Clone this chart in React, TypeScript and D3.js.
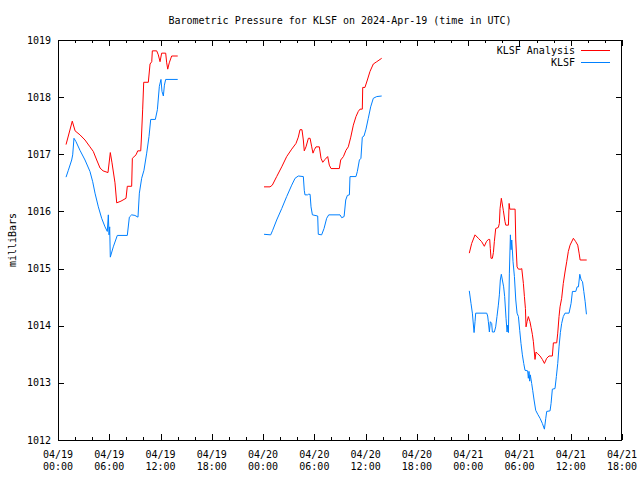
import React from "react";
import * as d3 from "d3";

// hours since 2024-04-19 00:00 UTC, value in millibars
const analysisDay1: [number, number][] = [
  [0.94, 1017.17], [1.67, 1017.58], [2.0, 1017.41], [2.57, 1017.34], [3.16, 1017.25],
  [3.74, 1017.13], [4.13, 1017.05], [4.53, 1016.9], [4.92, 1016.76], [5.27, 1016.71],
  [5.85, 1016.68], [6.12, 1017.03], [6.32, 1016.85], [6.67, 1016.5], [6.87, 1016.15],
  [7.37, 1016.18], [7.96, 1016.23], [8.11, 1016.44], [8.62, 1016.44], [8.7, 1016.93],
  [9.13, 1016.99], [9.33, 1017.06], [9.68, 1017.06], [9.75, 1017.25], [9.91, 1017.79],
  [10.03, 1018.26], [10.57, 1018.26], [10.77, 1018.58], [10.97, 1018.62], [11.04, 1018.81],
  [11.55, 1018.81], [11.74, 1018.74], [11.94, 1018.62], [12.13, 1018.77], [12.6, 1018.77],
  [12.72, 1018.6], [12.84, 1018.49], [13.02, 1018.6], [13.3, 1018.72], [14.01, 1018.72],
];
const analysisDay2: [number, number][] = [
  [24.11, 1016.43], [24.81, 1016.43], [25.08, 1016.46], [25.59, 1016.61], [26.18, 1016.78],
  [26.76, 1016.96], [27.35, 1017.09], [27.85, 1017.19], [28.12, 1017.3], [28.32, 1017.43],
  [28.55, 1017.43], [28.71, 1017.25], [28.82, 1017.06], [29.02, 1017.13], [29.3, 1017.28],
  [29.5, 1017.28], [29.69, 1017.13], [29.84, 1017.02], [30.0, 1017.08], [30.19, 1017.13],
  [30.58, 1017.13], [30.78, 1016.93], [30.98, 1016.86], [31.25, 1016.91], [31.56, 1016.96],
  [31.75, 1016.81], [31.95, 1016.75], [32.92, 1016.75], [33.08, 1016.9], [33.4, 1016.96],
  [33.7, 1017.07], [33.97, 1017.13], [34.26, 1017.3], [34.56, 1017.51], [34.87, 1017.66],
  [35.14, 1017.75], [35.34, 1017.79], [35.61, 1017.79], [35.66, 1018.17], [35.92, 1018.17],
  [36.2, 1018.3], [36.51, 1018.45], [36.9, 1018.58], [37.3, 1018.62], [37.88, 1018.68],
];
const analysisDay3: [number, number][] = [
  [48.13, 1015.27], [48.41, 1015.44], [48.8, 1015.59], [49.19, 1015.53], [49.58, 1015.47],
  [49.89, 1015.39], [50.13, 1015.47], [50.36, 1015.51], [50.52, 1015.51], [50.59, 1015.35],
  [50.67, 1015.18], [50.83, 1015.18], [50.95, 1015.28], [51.06, 1015.47], [51.22, 1015.7],
  [51.53, 1015.72], [51.65, 1015.79], [51.73, 1016.05], [51.88, 1016.23], [52.11, 1016.02],
  [52.31, 1015.82], [52.4, 1015.76], [52.71, 1015.76], [52.79, 1016.14], [52.87, 1016.04],
  [53.49, 1016.04], [53.57, 1015.5], [53.72, 1015.03], [53.88, 1014.99], [54.19, 1014.99],
  [54.27, 1015.0], [54.46, 1014.74], [54.58, 1014.51], [54.7, 1014.3], [54.77, 1013.98],
  [54.89, 1014.07], [55.04, 1014.16], [55.23, 1014.07], [55.36, 1013.97], [55.51, 1013.85],
  [55.63, 1013.72], [55.82, 1013.41], [55.94, 1013.54], [56.14, 1013.51], [56.41, 1013.47],
  [56.68, 1013.41], [56.92, 1013.34], [57.19, 1013.43], [57.46, 1013.47], [57.85, 1013.47],
  [57.97, 1013.7], [58.36, 1013.7], [58.48, 1013.87], [58.63, 1014.16], [58.75, 1014.33],
  [58.94, 1014.48], [59.13, 1014.74], [59.33, 1014.94], [59.53, 1015.12], [59.72, 1015.3],
  [59.92, 1015.41], [60.31, 1015.53], [60.59, 1015.47], [60.82, 1015.41], [60.98, 1015.27],
  [61.1, 1015.15], [61.87, 1015.15],
];

const stationDay1: [number, number][] = [
  [0.94, 1016.6], [1.21, 1016.72], [1.6, 1016.9], [1.72, 1016.99], [1.87, 1017.28],
  [2.11, 1017.22], [2.57, 1017.07], [3.16, 1016.9], [3.74, 1016.7], [4.06, 1016.52],
  [4.33, 1016.32], [4.72, 1016.08], [5.11, 1015.88], [5.5, 1015.73], [5.77, 1015.65],
  [5.89, 1015.94], [5.97, 1015.59], [6.05, 1015.73], [6.12, 1015.2], [6.47, 1015.38],
  [6.94, 1015.58], [8.11, 1015.58], [8.35, 1015.9], [8.62, 1015.94], [9.0, 1015.93],
  [9.36, 1015.9], [9.52, 1016.32], [9.79, 1016.58], [10.06, 1016.72], [10.38, 1017.02],
  [10.65, 1017.31], [10.85, 1017.61], [11.39, 1017.61], [11.63, 1017.78], [11.86, 1018.19],
  [12.05, 1018.31], [12.17, 1018.1], [12.33, 1018.02], [12.45, 1018.21], [12.6, 1018.31],
  [14.01, 1018.31],
];
const stationDay2: [number, number][] = [
  [24.11, 1015.6], [24.89, 1015.59], [25.12, 1015.67], [25.59, 1015.85], [26.18, 1016.05],
  [26.76, 1016.26], [27.35, 1016.46], [27.74, 1016.58], [28.12, 1016.62], [28.71, 1016.61],
  [28.82, 1016.37], [28.9, 1016.29], [29.2, 1016.29], [29.3, 1016.3], [29.5, 1016.3],
  [29.61, 1016.08], [29.77, 1015.94], [30.39, 1015.92], [30.46, 1015.6], [30.85, 1015.59],
  [31.13, 1015.7], [31.44, 1015.88], [31.68, 1015.94], [33.0, 1015.94], [33.2, 1015.89],
  [33.48, 1015.91], [33.67, 1016.2], [33.86, 1016.28], [34.1, 1016.29], [34.17, 1016.61],
  [34.87, 1016.61], [35.03, 1016.7], [35.27, 1016.9], [35.45, 1016.93], [35.61, 1017.3],
  [35.81, 1017.32], [36.04, 1017.44], [36.31, 1017.63], [36.59, 1017.83], [36.9, 1017.98],
  [37.3, 1018.01], [37.88, 1018.02],
];
const stationDay3: [number, number][] = [
  [48.13, 1014.61], [48.33, 1014.39], [48.49, 1014.22], [48.69, 1013.88], [48.8, 1014.07],
  [48.88, 1014.22], [50.17, 1014.22], [50.28, 1014.17], [50.36, 1014.07], [50.48, 1013.89],
  [50.59, 1014.07], [50.75, 1014.04], [50.83, 1013.89], [51.06, 1013.89], [51.22, 1013.98],
  [51.37, 1014.16], [51.53, 1014.36], [51.65, 1014.54], [51.76, 1014.8], [51.88, 1014.9],
  [52.0, 1014.8], [52.15, 1014.68], [52.27, 1014.51], [52.43, 1014.13], [52.55, 1013.89],
  [52.63, 1014.01], [52.71, 1013.88], [52.82, 1014.92], [52.94, 1015.59], [53.02, 1015.33],
  [53.1, 1015.5], [53.25, 1015.12], [53.41, 1014.86], [53.57, 1014.45], [53.72, 1014.22],
  [53.88, 1014.16], [54.03, 1013.92], [54.18, 1013.69], [54.34, 1013.49], [54.5, 1013.34],
  [54.65, 1013.22], [54.96, 1013.21], [55.04, 1013.08], [55.12, 1013.2], [55.2, 1013.03],
  [55.27, 1013.14], [55.43, 1012.99], [55.55, 1012.87], [55.71, 1012.7], [55.9, 1012.52],
  [56.14, 1012.45], [56.41, 1012.38], [56.68, 1012.29], [56.92, 1012.19], [57.08, 1012.38],
  [57.19, 1012.5], [57.58, 1012.51], [57.7, 1012.64], [57.85, 1012.89], [58.16, 1012.9],
  [58.32, 1013.11], [58.48, 1013.34], [58.63, 1013.63], [58.79, 1013.88], [58.94, 1014.04],
  [59.13, 1014.16], [59.33, 1014.22], [59.8, 1014.22], [60.04, 1014.39], [60.2, 1014.6],
  [60.59, 1014.6], [60.75, 1014.68], [60.9, 1014.68], [61.06, 1014.9], [61.22, 1014.8],
  [61.38, 1014.77], [61.53, 1014.6], [61.69, 1014.42], [61.84, 1014.2],
];

const seriesNames = ["KLSF Analysis", "KLSF"];
const seriesColors = ["#ff0000", "#0080ff"];
const yTicks = [1012, 1013, 1014, 1015, 1016, 1017, 1018, 1019];
const titleText = "Barometric Pressure for KLSF on 2024-Apr-19 (time in UTC)";
const yLabel = "milliBars";

const START = Date.UTC(2024, 3, 19, 0, 0);
const END = Date.UTC(2024, 3, 21, 18, 0);

const W = 640, H = 480;
const L = 58, R = 622, T = 40, B = 440;
const FONT = "'DejaVu Sans Mono', 'Liberation Mono', monospace";

export default function App() {
  const x = d3.scaleUtc().domain([new Date(START), new Date(END)]).range([L, R]);
  const y = d3.scaleLinear().domain([1012, 1019]).range([B, T]);
  const toDate = (h: number) => new Date(START + h * 3600 * 1000);
  const line = d3
    .line<[number, number]>()
    .x((d) => x(toDate(d[0])))
    .y((d) => y(d[1]));

  const majorTicks = d3.utcHour.every(6)!.range(new Date(START), new Date(END + 1));
  const minorTicks = d3.utcHour.every(2)!.range(new Date(START), new Date(END + 1));
  const fmtDay = d3.utcFormat("%m/%d");
  const fmtTime = d3.utcFormat("%H:%M");

  const analysis = [analysisDay1, analysisDay2, analysisDay3];
  const station = [stationDay1, stationDay2, stationDay3];

  return (
    <svg
      width={W}
      height={H}
      style={{ position: "absolute", left: 0, top: 0, background: "#fff", display: "block" }}
      fontFamily={FONT}
      fontSize={10}
    >
      <rect x={0} y={0} width={W} height={H} fill="#fff" />
      <text x={(L + R) / 2} y={23.5} textAnchor="middle" fill="#000">
        {titleText}
      </text>
      {/* y ticks */}
      {yTicks.map((t) => (
        <g key={"y" + t}>
          <line x1={L} x2={L + 6} y1={Math.round(y(t)) + 0.5} y2={Math.round(y(t)) + 0.5} stroke="#000" />
          <line x1={R - 6} x2={R} y1={Math.round(y(t)) + 0.5} y2={Math.round(y(t)) + 0.5} stroke="#000" />
          <text x={51} y={y(t) + 3.5} textAnchor="end" fill="#000">
            {t}
          </text>
        </g>
      ))}
      {/* x minor ticks */}
      {minorTicks.map((d, i) => {
        const px = Math.round(x(d)) + 0.5;
        return (
          <g key={"m" + i}>
            <line x1={px} x2={px} y1={B} y2={B - 3} stroke="#000" />
            <line x1={px} x2={px} y1={T} y2={T + 3} stroke="#000" />
          </g>
        );
      })}
      {majorTicks.map((d, i) => {
        const px = Math.round(x(d)) + 0.5;
        return (
          <g key={"M" + i}>
            <line x1={px} x2={px} y1={B} y2={B - 6} stroke="#000" />
            <line x1={px} x2={px} y1={T} y2={T + 6} stroke="#000" />
            <text x={x(d)} y={458} textAnchor="middle" fill="#000">
              {fmtDay(d)}
            </text>
            <text x={x(d)} y={470} textAnchor="middle" fill="#000">
              {fmtTime(d)}
            </text>
          </g>
        );
      })}
      <text
        transform={`translate(15.5,${(T + B) / 2}) rotate(-90)`}
        textAnchor="middle"
        fill="#000"
      >
        {yLabel}
      </text>
      {/* data */}
      {analysis.map((seg, i) => (
        <path key={"a" + i} d={line(seg) || ""} fill="none" stroke={seriesColors[0]} strokeWidth={1} />
      ))}
      {station.map((seg, i) => (
        <path key={"s" + i} d={line(seg) || ""} fill="none" stroke={seriesColors[1]} strokeWidth={1} />
      ))}
      {/* legend */}
      {seriesNames.map((n, i) => (
        <g key={"l" + i}>
          <text x={575} y={53.5 + i * 12} textAnchor="end" fill="#000">
            {n}
          </text>
          <line x1={581} x2={610} y1={50.5 + i * 12} y2={50.5 + i * 12} stroke={seriesColors[i]} />
        </g>
      ))}
      <rect x={L + 0.5} y={T + 0.5} width={R - L - 1} height={B - T} fill="none" stroke="#000" />
    </svg>
  );
}
